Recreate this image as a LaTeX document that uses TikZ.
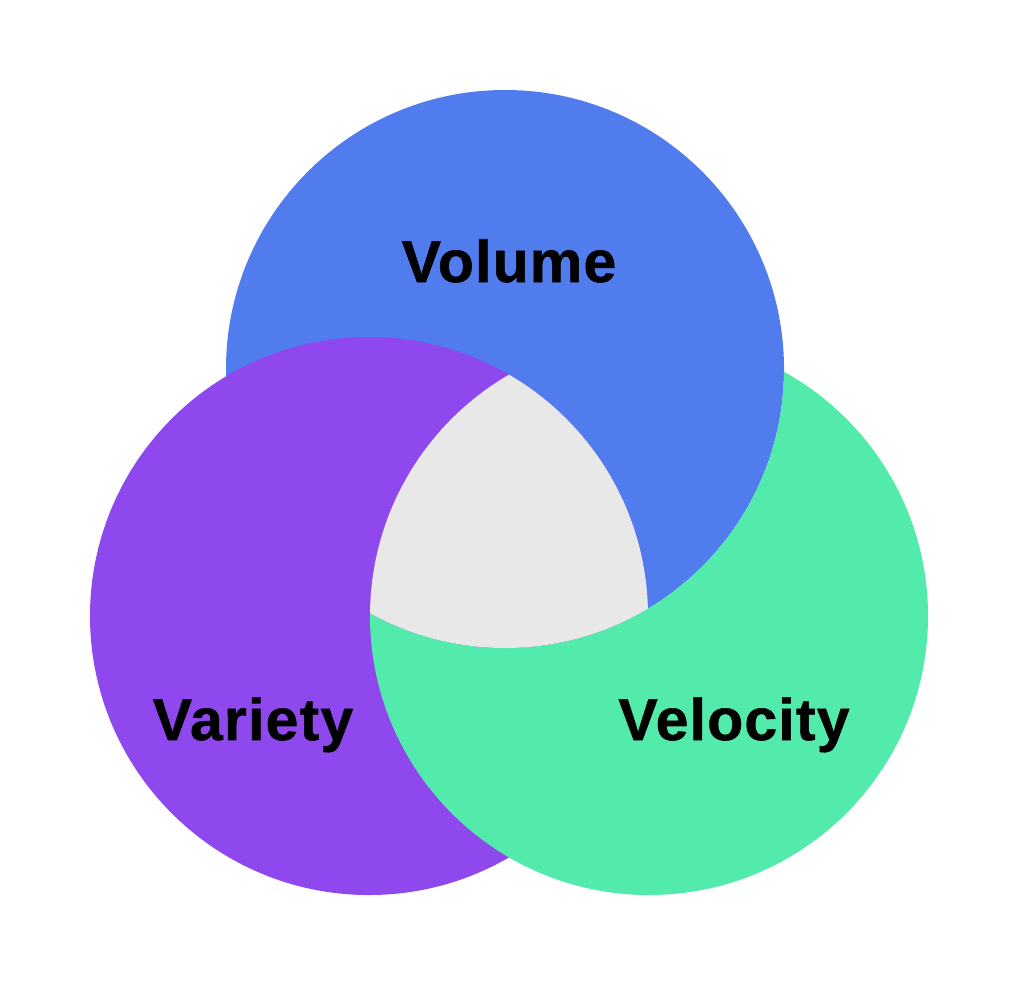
\documentclass[tikz,border=0pt]{standalone}
\usepackage{fontspec}
\setmainfont{Liberation Sans}
\newfontfamily\heavyfont{Liberation Sans Bold}[FakeBold=0.9,LetterSpace=2]
\definecolor{cblue}{HTML}{507CEE}
\definecolor{cpurple}{HTML}{8F48EE}
\definecolor{cgreen}{HTML}{52EBAB}
\definecolor{cgray}{HTML}{E8E8E8}
\tikzset{
  lbl/.style={font=\heavyfont\fontsize{29.5pt}{32pt}\selectfont, text=black, anchor=base, inner sep=0pt}
}
\begin{document}
\begin{tikzpicture}[x=0.5pt,y=-0.5pt]
\useasboundingbox (0,0) rectangle (1020,986);
\fill[white] (0,0) rectangle (1020,986);
\def\R{279}
\coordinate (cb) at (505,369);
\coordinate (cp) at (369,616);
\coordinate (cg) at (649,616);
% blue
\fill[cblue] (cb) circle[radius=\R];
% purple
\fill[cpurple] (cp) circle[radius=\R];
% green, outside the blue circle
\begin{scope}[even odd rule]
  \clip (-10,-10) rectangle (1030,996) (cb) circle[radius=\R];
  \fill[cgreen] (cg) circle[radius=\R];
\end{scope}
% triple intersection
\begin{scope}
  \clip (cb) circle[radius=\R];
  \clip (cp) circle[radius=\R];
  \fill[cgray] (cg) circle[radius=\R];
\end{scope}
\node[lbl] (vol) at (509,282) {Volume};
\node[lbl] (var) at (253,740) {Variety};
\node[lbl] (vel) at (734,740) {Velocity};
\end{tikzpicture}
\end{document}
